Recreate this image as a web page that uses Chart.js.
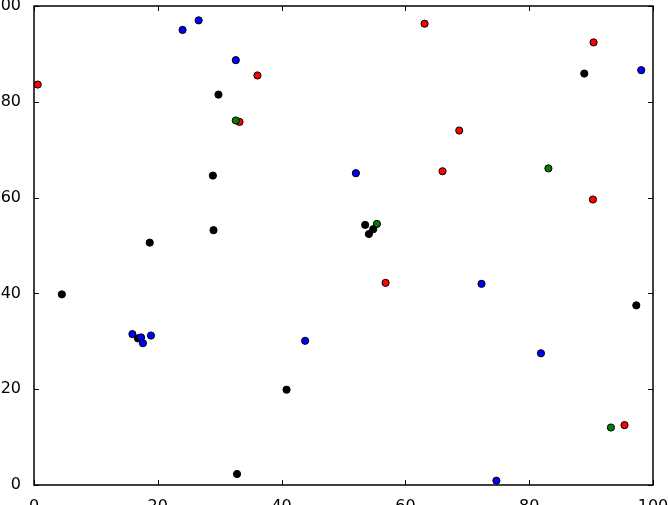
<!DOCTYPE html>
<html>
<head>
<meta charset="utf-8">
<script src="https://cdn.jsdelivr.net/npm/chart.js@4.4.0/dist/chart.umd.min.js"></script>
<style>
  html, body { margin: 0; padding: 0; background: #fff; }
  #wrap { width: 668px; height: 505px; }
</style>
</head>
<body>
<div id="wrap"><canvas id="myChart"></canvas></div>
<script>
// point values
const redX = [0.6, 33.2, 36.1, 63.1, 90.4, 68.7, 66.0, 90.3, 56.8, 95.4];
const redY = [83.6, 75.8, 85.5, 96.3, 92.4, 74.0, 65.5, 59.6, 42.2, 12.5];

const blueX = [24.0, 26.6, 32.6, 52.0, 98.1, 15.9, 17.3, 17.6, 18.9, 43.8, 72.3, 81.9, 74.7];
const blueY = [95.0, 97.0, 88.7, 65.1, 86.6, 31.5, 30.8, 29.6, 31.2, 30.1, 42.0, 27.5, 0.9];

const blackX = [29.8, 28.9, 29.0, 18.7, 88.9, 53.5, 54.1, 54.8, 4.5, 16.8, 40.8, 32.8, 97.3];
const blackY = [81.5, 64.6, 53.2, 50.6, 85.9, 54.3, 52.4, 53.4, 39.8, 30.6, 19.9, 2.3, 37.5];

const greenX = [32.6, 55.4, 83.1, 93.2];
const greenY = [76.1, 54.5, 66.1, 12.0];

const tickValues = [0, 20, 40, 60, 80, 100];

function pts(xs, ys) {
  return xs.map((x, i) => ({ x: x, y: ys[i] }));
}

function series(xs, ys, color) {
  return {
    data: pts(xs, ys),
    backgroundColor: color,
    borderColor: '#000000',
    borderWidth: 1,
    pointRadius: 3.6,
    pointHoverRadius: 3.6
  };
}

// frame and inward ticks on all four sides, like the old matplotlib look
const frameTicks = {
  id: 'frameTicks',
  afterDraw(chart) {
    const ctx = chart.ctx;
    const a = chart.chartArea;
    const sx = chart.scales.x, sy = chart.scales.y;
    ctx.save();
    ctx.strokeStyle = '#000';
    ctx.lineWidth = 1;
    ctx.beginPath();
    tickValues.forEach(v => {
      const px = Math.round(sx.getPixelForValue(v)) + 0.5;
      ctx.moveTo(px, a.bottom); ctx.lineTo(px, a.bottom - 5);
      ctx.moveTo(px, a.top); ctx.lineTo(px, a.top + 5);
      const py = Math.round(sy.getPixelForValue(v)) + 0.5;
      ctx.moveTo(a.left, py); ctx.lineTo(a.left + 5, py);
      ctx.moveTo(a.right, py); ctx.lineTo(a.right - 5, py);
    });
    ctx.stroke();
    ctx.lineWidth = 1.5;
    ctx.strokeRect(a.left, a.top, a.right - a.left, a.bottom - a.top);
    ctx.restore();
  }
};

const tickFont = { family: 'DejaVu Sans', size: 16 };

new Chart(document.getElementById('myChart'), {
  type: 'scatter',
  data: {
    datasets: [
      series(blueX, blueY, '#0000ff'),
      series(blackX, blackY, '#000000'),
      series(greenX, greenY, '#008000'),
      series(redX, redY, '#ff0000')
    ]
  },
  options: {
    responsive: true,
    maintainAspectRatio: false,
    animation: false,
    layout: { padding: { top: 6, right: 15, left: 0, bottom: 0 } },
    plugins: {
      legend: { display: false },
      tooltip: { enabled: false }
    },
    scales: {
      x: {
        type: 'linear',
        min: 0, max: 100,
        afterBuildTicks: s => { s.ticks = tickValues.map(v => ({ value: v })); },
        afterFit: s => { s.height = 20; s.paddingLeft = 0; s.paddingRight = 0; },
        grid: { display: false },
        border: { display: false },
        ticks: { color: '#000', font: tickFont, padding: 4, maxRotation: 0, autoSkip: false }
      },
      y: {
        type: 'linear',
        min: 0, max: 100,
        afterBuildTicks: s => { s.ticks = tickValues.map(v => ({ value: v })); },
        afterFit: s => { s.width = 34; s.paddingTop = 0; s.paddingBottom = 0; },
        grid: { display: false },
        border: { display: false },
        ticks: { color: '#000', font: tickFont, padding: 5, autoSkip: false }
      }
    }
  },
  plugins: [frameTicks]
});
</script>
</body>
</html>
